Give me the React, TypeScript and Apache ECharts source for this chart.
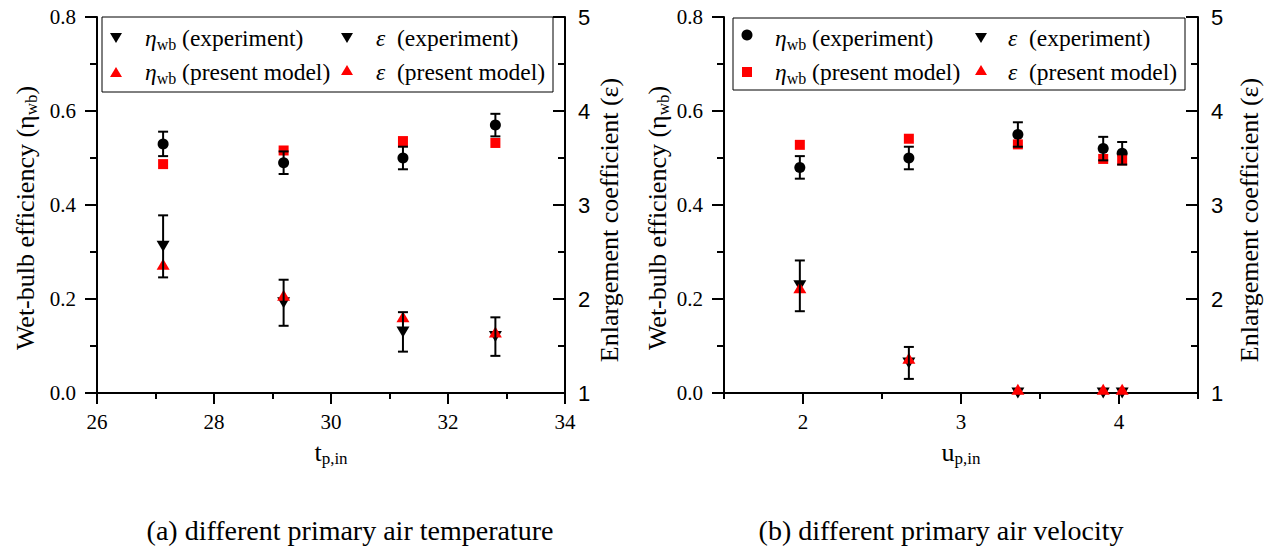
import React, { useEffect, useRef } from "react";
import * as echarts from "echarts";

// ---------- data ----------
// (a) different primary air temperature
const tempX = [27.13, 29.19, 31.23, 32.81];
const tempEtaExp = [0.53, 0.49, 0.5, 0.57];
const tempEtaExpErr = [0.026, 0.024, 0.024, 0.024];
const tempEtaModel = [0.487, 0.516, 0.536, 0.532];
const tempEpsExp = [2.56, 1.96, 1.65, 1.6];
const tempEpsExpErr = [0.33, 0.245, 0.21, 0.205];
const tempEpsModel = [2.37, 2.04, 1.81, 1.65];

// (b) different primary air velocity
const velX = [1.98, 2.67, 3.36, 3.9, 4.02];
const velEtaExp = [0.48, 0.5, 0.55, 0.52, 0.51];
const velEtaExpErr = [0.024, 0.024, 0.026, 0.025, 0.024];
const velEtaModel = [0.528, 0.541, 0.529, 0.498, 0.495];
const velEpsExp = [2.14, 1.32, 1.0, 1.0, 1.0];
const velEpsExpErr = [0.27, 0.17, 0, 0, 0];
const velEpsModel = [2.12, 1.37, 1.04, 1.04, 1.04];

// axis ticks / labels
const tempXTicks = { min: 26, max: 34, interval: 2 };
const velXMajor = [2, 3, 4];
const velXMinor = [1.5, 2.5, 3.5, 4.5];
const etaTicks = { min: 0, max: 0.8, interval: 0.2 };
const epsTicks = { min: 1, max: 5, interval: 1 };

const captions = ["(a) different primary air temperature", "(b) different primary air velocity"];

const SERIF = "Liberation Serif, Times New Roman, Times, DejaVu Serif, serif";
const SANS = "Liberation Sans";
const RED = "#ff0000";

const nameRich = {
  a: { fontFamily: SERIF, fontSize: 26, color: "#000", lineHeight: 30, verticalAlign: "middle" },
  s: { fontFamily: SERIF, fontSize: 17, color: "#000", lineHeight: 16, verticalAlign: "bottom" },
};
const legRich = {
  a: { fontFamily: SERIF, fontSize: 23.5, color: "#000", lineHeight: 28, verticalAlign: "middle" },
  i: { fontFamily: SERIF, fontSize: 23.5, fontStyle: "italic", color: "#000", lineHeight: 28, verticalAlign: "middle" },
  s: { fontFamily: SERIF, fontSize: 16, color: "#000", lineHeight: 15, verticalAlign: "bottom" },
};

const axisLine = { show: true, onZero: false, lineStyle: { color: "#000", width: 2 } };

function xAxisBase(gridIndex: number) {
  return {
    type: "value",
    gridIndex,
    position: "bottom",
    axisLine,
    splitLine: { show: false },
    nameLocation: "middle",
    nameGap: 44,
    nameTextStyle: { rich: nameRich },
    axisLabel: { fontFamily: SERIF, fontSize: 21, color: "#000", margin: 18 },
  };
}

function etaAxis(gridIndex: number) {
  return {
    type: "value",
    gridIndex,
    position: "left",
    ...etaTicks,
    axisLine,
    splitLine: { show: false },
    axisTick: { show: true, length: 12, lineStyle: { color: "#000", width: 2 } },
    minorTick: { show: true, splitNumber: 2, length: 7, lineStyle: { color: "#000", width: 2 } },
    axisLabel: { fontFamily: SERIF, fontSize: 21, color: "#000", margin: 21, formatter: (v: number) => v.toFixed(1) },
    name: "{a|Wet-bulb efficiency (η}{s|wb}{a|)}",
    nameLocation: "middle",
    nameRotate: 90,
    nameGap: gridIndex === 0 ? 57 : 52,
    nameTextStyle: { rich: nameRich, padding: [0, 26, 0, 0] },
  };
}

function epsAxis(gridIndex: number) {
  return {
    type: "value",
    gridIndex,
    position: "right",
    ...epsTicks,
    axisLine,
    splitLine: { show: false },
    axisTick: { show: true, inside: true, length: 12, lineStyle: { color: "#000", width: 2 } },
    minorTick: { show: true, splitNumber: 2, length: 7, lineStyle: { color: "#000", width: 2 } },
    axisLabel: { fontFamily: SANS, fontSize: 22, color: "#000", margin: 13 },
    name: "Enlargement coefficient (ε)",
    nameLocation: "middle",
    nameRotate: 90,
    nameGap: gridIndex === 0 ? 31 : 38,
    nameTextStyle: { fontFamily: SERIF, fontSize: 26, color: "#000", padding: [0, 30, 0, 0] },
  };
}

function errData(xs: number[], ys: number[], errs: number[]) {
  const out: number[][] = [];
  xs.forEach((x, i) => {
    if (errs[i] > 0) out.push([x, ys[i] - errs[i], ys[i] + errs[i]]);
  });
  return out;
}

const errRender = (params: any, api: any) => {
  const x = api.value(0);
  const top = api.coord([x, api.value(2)]);
  const bot = api.coord([x, api.value(1)]);
  const w = 5;
  const st = { stroke: "#000", lineWidth: 2 };
  return {
    type: "group",
    children: [
      { type: "line", shape: { x1: top[0], y1: top[1], x2: bot[0], y2: bot[1] }, style: st },
      { type: "line", shape: { x1: top[0] - w, y1: top[1], x2: top[0] + w, y2: top[1] }, style: st },
      { type: "line", shape: { x1: bot[0] - w, y1: bot[1], x2: bot[0] + w, y2: bot[1] }, style: st },
    ],
  };
};

function pairs(xs: number[], ys: number[]) {
  return xs.map((x, i) => [x, ys[i]]);
}

function scatter(xi: number, yi: number, data: number[][], symbol: string, size: any, color: string, rotate = 0, z = 3) {
  return {
    type: "scatter",
    xAxisIndex: xi,
    yAxisIndex: yi,
    data,
    symbol,
    symbolSize: size,
    symbolRotate: rotate,
    itemStyle: { color, opacity: 1 },
    z,
    silent: true,
  };
}

function errSeries(xi: number, yi: number, data: number[][]) {
  return {
    type: "custom",
    xAxisIndex: xi,
    yAxisIndex: yi,
    data,
    encode: { x: 0, y: [1, 2] },
    renderItem: errRender,
    z: 5,
    silent: true,
  };
}

// ---- legend graphics ----
function downTri(cx: number, cy: number, color: string) {
  return { type: "polygon", shape: { points: [[cx - 6, cy - 5], [cx + 6, cy - 5], [cx, cy + 5]] }, style: { fill: color } };
}
function upTri(cx: number, cy: number, color: string) {
  return { type: "polygon", shape: { points: [[cx - 6, cy + 5], [cx + 6, cy + 5], [cx, cy - 5]] }, style: { fill: color } };
}
function legText(x: number, y: number, text: string) {
  return { type: "text", x, y, style: { text, rich: legRich, verticalAlign: "middle", align: "left" } };
}

function buildLegend(bx: number, by: number, bw: number, bh: number, s1: number, t1: number, s2: number, t2: number, r1: number, r2: number, kind: "a" | "b") {
  const els: any[] = [
    { type: "rect", shape: { x: bx, y: by, width: bw, height: bh }, style: { fill: "#fff", stroke: "#000", lineWidth: 1 }, z: 100 },
  ];
  const items: any[] = [];
  if (kind === "a") {
    items.push(downTri(s1, r1, "#000"), upTri(s1, r2, RED));
  } else {
    items.push(
      { type: "circle", shape: { cx: s1, cy: r1 - 3, r: 5.5 }, style: { fill: "#000" } },
      { type: "rect", shape: { x: s1 - 5, y: r2 - 5, width: 10, height: 10 }, style: { fill: RED } }
    );
  }
  items.push(downTri(s2, r1, "#000"), upTri(s2, r2 - 2, RED));
  items.push(
    legText(t1, r1, "{i|η}{s|wb}{a| (experiment)}"),
    legText(t1, r2, "{i|η}{s|wb}{a| (present model)}"),
    legText(t2, r1, "{i|ε}{a|  (experiment)}"),
    legText(t2, r2, "{i|ε}{a|  (present model)}")
  );
  items.forEach((it) => (it.z = 101));
  return els.concat(items);
}

export default function App() {
  const ref = useRef<HTMLDivElement>(null);
  useEffect(() => {
    if (!ref.current) return;
    const chart = echarts.init(ref.current, undefined, { renderer: "svg" });
    const option: any = {
      animation: false,
      backgroundColor: "#fff",
      textStyle: { fontFamily: SERIF },
      grid: [
        { left: 97, top: 17, width: 468, height: 376 },
        { left: 724, top: 17, width: 474, height: 376 },
      ],
      xAxis: [
        {
          ...xAxisBase(0),
          ...tempXTicks,
          axisTick: { show: true, length: 11, lineStyle: { color: "#000", width: 2 } },
          minorTick: { show: true, splitNumber: 2, length: 6, lineStyle: { color: "#000", width: 2 } },
          name: "{a|t}{s|p,in}",
        },
        {
          ...xAxisBase(1),
          min: 1.5,
          max: 4.5,
          axisTick: { show: true, customValues: velXMajor, length: 11, lineStyle: { color: "#000", width: 2 } },
          axisLabel: { ...xAxisBase(1).axisLabel, customValues: velXMajor },
          name: "{a|u}{s|p,in}",
        },
        {
          type: "value",
          gridIndex: 1,
          position: "bottom",
          min: 1.5,
          max: 4.5,
          axisLine: { show: false },
          splitLine: { show: false },
          axisLabel: { show: false },
          axisTick: { show: true, customValues: velXMinor, length: 6, lineStyle: { color: "#000", width: 2 } },
        },
      ],
      yAxis: [etaAxis(0), epsAxis(0), etaAxis(1), epsAxis(1)],
      series: [
        // chart (a)
        scatter(0, 0, pairs(tempX, tempEtaExp), "circle", 11, "#000", 0, 2),
        scatter(0, 1, pairs(tempX, tempEpsExp), "triangle", [13, 11], "#000", 180, 2),
        scatter(0, 0, pairs(tempX, tempEtaModel), "rect", 10, RED, 0, 3),
        scatter(0, 1, pairs(tempX, tempEpsModel), "triangle", [13, 11], RED, 0, 3),
        errSeries(0, 0, errData(tempX, tempEtaExp, tempEtaExpErr)),
        errSeries(0, 1, errData(tempX, tempEpsExp, tempEpsExpErr)),
        // chart (b)
        scatter(1, 2, pairs(velX, velEtaExp), "circle", 11, "#000", 0, 2),
        scatter(1, 3, pairs(velX, velEpsExp), "triangle", [13, 11], "#000", 180, 2),
        scatter(1, 2, pairs(velX, velEtaModel), "rect", 10, RED, 0, 3),
        scatter(1, 3, pairs(velX, velEpsModel), "triangle", [13, 11], RED, 0, 3),
        errSeries(1, 2, errData(velX, velEtaExp, velEtaExpErr)),
        errSeries(1, 3, errData(velX, velEpsExp, velEpsExpErr)),
      ],
      graphic: [
        ...buildLegend(102, 17, 451, 75, 116, 145, 347, 376, 38, 72, "a"),
        ...buildLegend(733, 18, 452, 72, 747, 775, 981, 1008, 38, 72, "b"),
        {
          type: "text",
          x: 350,
          y: 530,
          style: { text: captions[0], fontFamily: SERIF, fontSize: 28, fill: "#000", align: "center", verticalAlign: "middle" },
        },
        {
          type: "text",
          x: 941,
          y: 530,
          style: { text: captions[1], fontFamily: SERIF, fontSize: 28, fill: "#000", align: "center", verticalAlign: "middle" },
        },
      ],
    };
    chart.setOption(option);
    return () => chart.dispose();
  }, []);
  return <div ref={ref} style={{ position: "fixed", left: 0, top: 0, width: 1275, height: 550 }} />;
}
